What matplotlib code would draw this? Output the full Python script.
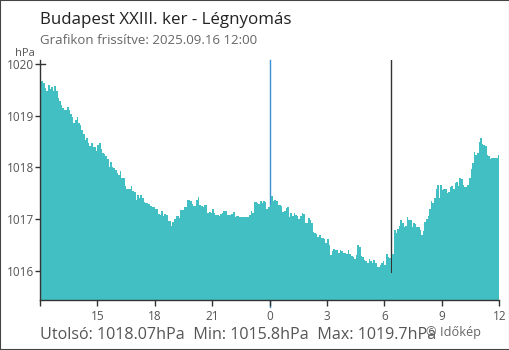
import matplotlib
matplotlib.use("Agg")
import matplotlib.pyplot as plt
import numpy as np

# Légnyomás, 5 perces adatok 2025.09.15 12:00 -> 2025.09.16 12:00 (hPa)
pressure = [
    1019.68, 1019.67, 1019.64, 1019.54, 1019.48, 1019.59, 1019.52, 1019.56, 1019.48, 1019.57,
    1019.48, 1019.35, 1019.28, 1019.20, 1019.15, 1019.11, 1019.11, 1019.17, 1019.12, 1019.03,
    1018.98, 1018.86, 1018.92, 1018.98, 1018.86, 1018.83, 1018.72, 1018.64, 1018.53, 1018.57,
    1018.48, 1018.41, 1018.48, 1018.40, 1018.40, 1018.32, 1018.43, 1018.48, 1018.35, 1018.28,
    1018.25, 1018.22, 1018.16, 1018.01, 1018.10, 1018.01, 1017.99, 1017.95, 1017.89, 1017.85,
    1017.93, 1017.79, 1017.79, 1017.63, 1017.59, 1017.59, 1017.59, 1017.63, 1017.54, 1017.52,
    1017.37, 1017.46, 1017.41, 1017.46, 1017.41, 1017.33, 1017.30, 1017.30, 1017.29, 1017.25,
    1017.23, 1017.23, 1017.20, 1017.19, 1017.09, 1017.08, 1017.16, 1017.05, 1017.09, 1017.07,
    1016.96, 1016.96, 1016.87, 1016.94, 1017.00, 1017.06, 1017.06, 1017.01, 1017.17, 1017.17,
    1017.24, 1017.24, 1017.37, 1017.37, 1017.35, 1017.29, 1017.25, 1017.25, 1017.37, 1017.42,
    1017.27, 1017.25, 1017.24, 1017.27, 1017.27, 1017.11, 1017.14, 1017.11, 1017.19, 1017.11,
    1017.08, 1017.08, 1017.05, 1017.09, 1017.11, 1017.16, 1017.16, 1017.08, 1017.08, 1017.08,
    1017.09, 1017.14, 1017.03, 1017.06, 1017.05, 1017.03, 1017.03, 1017.03, 1017.03, 1017.03,
    1017.03, 1017.08, 1017.16, 1017.11, 1017.32, 1017.32, 1017.30, 1017.29, 1017.34, 1017.30,
    1017.34, 1017.32, 1017.19, 1017.24, 1017.27, 1017.45, 1017.35, 1017.37, 1017.34, 1017.27,
    1017.27, 1017.26, 1017.14, 1017.16, 1017.21, 1017.24, 1017.03, 1017.12, 1017.05, 1017.11,
    1017.08, 1017.06, 1017.00, 1017.06, 1017.11, 1017.10, 1016.92, 1016.93, 1017.01, 1016.98,
    1016.92, 1016.75, 1016.72, 1016.71, 1016.65, 1016.69, 1016.63, 1016.63, 1016.61, 1016.53,
    1016.61, 1016.50, 1016.30, 1016.37, 1016.41, 1016.40, 1016.39, 1016.35, 1016.39, 1016.37,
    1016.35, 1016.34, 1016.32, 1016.40, 1016.32, 1016.28, 1016.26, 1016.22, 1016.30, 1016.50,
    1016.46, 1016.28, 1016.26, 1016.21, 1016.19, 1016.14, 1016.22, 1016.19, 1016.15, 1016.21,
    1016.15, 1016.07, 1016.07, 1016.11, 1016.15, 1016.19, 1016.11, 1016.32, 1016.26, 1016.24,
    1015.96, 1016.32, 1016.79, 1016.72, 1016.80, 1016.87, 1016.98, 1016.92, 1016.85, 1016.87,
    1017.03, 1016.98, 1016.98, 1016.85, 1016.92, 1016.90, 1016.85, 1016.84, 1016.79, 1016.69,
    1016.77, 1016.95, 1017.00, 1017.06, 1017.19, 1017.34, 1017.30, 1017.40, 1017.59, 1017.66,
    1017.40, 1017.66, 1017.56, 1017.58, 1017.58, 1017.51, 1017.53, 1017.61, 1017.63, 1017.58,
    1017.70, 1017.72, 1017.63, 1017.79, 1017.77, 1017.66, 1017.61, 1017.61, 1017.66, 1017.79,
    1017.96, 1018.08, 1018.30, 1018.24, 1018.27, 1018.50, 1018.56, 1018.45, 1018.43, 1018.41,
    1018.24, 1018.22, 1018.16, 1018.18, 1018.19, 1018.19, 1018.19, 1018.24,
]
step_hours = 5 / 60

# x tengely: órák 12:00-tól
x_ticks = [0, 3, 6, 9, 12, 15, 18, 21, 24]
x_labels = ["", "15", "18", "21", "0", "3", "6", "9", "12"]
y_ticks = [1016, 1017, 1018, 1019, 1020]

midnight_hour = 12
marker_hour = 18.35

title = "Budapest XXIII. ker - Légnyomás"
subtitle = "Grafikon frissítve: 2025.09.16 12:00"
stats = "Utolsó: 1018.07hPa  Min: 1015.8hPa  Max: 1019.7hPa"

plt.rcParams["font.family"] = ["Open Sans", "DejaVu Sans"]

W, H = 510, 350
fig = plt.figure(figsize=(W / 100, H / 100), dpi=100)
ax = fig.add_axes([40 / W, 50 / H, 459.3 / W, 240 / H])

edges = np.arange(len(pressure) + 1) * step_hours
ax.stairs(pressure, edges, baseline=1015.0, fill=True, color="#41bfc2", zorder=2)

ax.axvline(midnight_hour, ymin=-0.03, ymax=1, color="#3d8fd1", lw=1, clip_on=False, zorder=1)
ax.axvline(marker_hour, color="#333333", lw=1, zorder=1)
ax.axhline(1020, xmin=0, xmax=5 / 459.3, color="#333333", lw=1, zorder=3)

ax.set_xlim(0, 24)
ax.set_ylim(1015.43, 1020.08)
ax.set_xticks(x_ticks)
ax.set_xticklabels(x_labels)
ax.set_yticks(y_ticks)

for side in ["top", "right"]:
    ax.spines[side].set_visible(False)
for side in ["left", "bottom"]:
    ax.spines[side].set_color("#333333")
    ax.spines[side].set_linewidth(1)

ax.tick_params(axis="y", length=3.6, width=1, pad=0.8, color="#333333",
               labelcolor="#555555", labelsize=8.5)
ax.tick_params(axis="x", length=4.3, width=1, pad=3.2, color="#333333",
               labelcolor="#555555", labelsize=8.5)

fig.text(40 / W, 1 - 24.3 / H, title, fontsize=12.2, color="#222222", va="baseline")
fig.text(40 / W, 1 - 44.3 / H, subtitle, fontsize=9.5, color="#666666", va="baseline")
fig.text(34.5 / W, 1 - 56 / H, "hPa", fontsize=8, color="#555555", va="baseline", ha="right")
fig.text(40 / W, 1 - 339.3 / H, stats, fontsize=11.6, color="#555555", va="baseline")
fig.text(426 / W, 1 - 336 / H, "© Időkép", fontsize=9.2, color="#666666", va="baseline")

fig.add_artist(plt.Rectangle((0, 0), 1, 1, transform=fig.transFigure, fill=False,
                             edgecolor="#444444", lw=1.5))

fig.savefig("out.png", dpi=100)
